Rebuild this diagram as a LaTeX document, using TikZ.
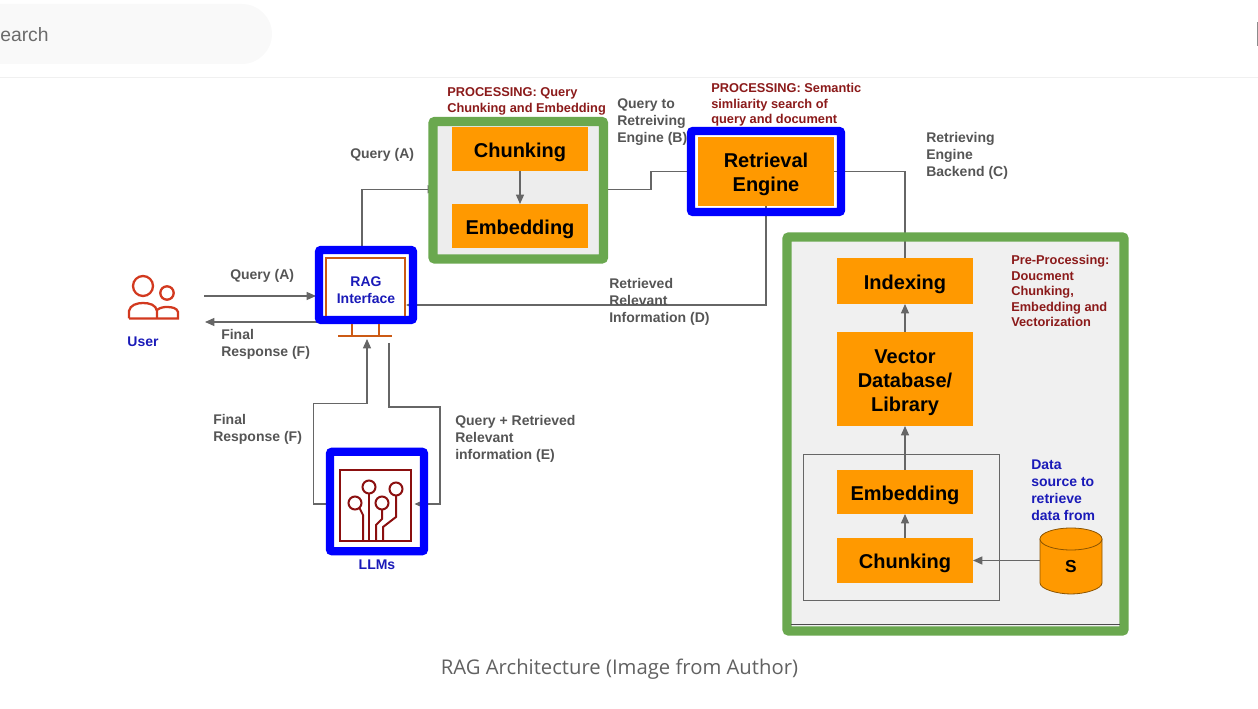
\documentclass[tikz,border=0pt]{standalone}
\usepackage{fontspec}
\setmainfont{Liberation Sans}
\newfontfamily\capfont{Open Sans}
\usetikzlibrary{arrows.meta,calc}
\pgfdeclarelayer{panel}
\pgfdeclarelayer{conn}
\pgfsetlayers{panel,conn,main}
\definecolor{grn}{HTML}{6AA84F}
\definecolor{org}{HTML}{FF9900}
\definecolor{blu}{HTML}{0000FF}
\definecolor{lnk}{HTML}{666666}
\definecolor{lab}{HTML}{555555}
\definecolor{dred}{HTML}{8B1A1A}
\definecolor{nav}{HTML}{1A1AB8}
\definecolor{mon}{HTML}{CC5A14}
\definecolor{chip}{HTML}{8B0F0F}
\definecolor{usr}{HTML}{D2391F}
\newcommand{\lowstrut}{\rule{0pt}{15.4pt}}
\tikzset{
  x=0.75pt,y=-0.75pt,
  box/.style 2 args={draw=none,fill=org,inner sep=0pt,outer sep=0pt,minimum width=#1*0.75pt,minimum height=#2*0.75pt,align=center,font=\bfseries\fontsize{15}{18}\selectfont,execute at begin node={\rule{0pt}{15.8pt}}},
  frame/.style={draw=blu,line width=6.2pt,rounded corners=1.5pt,inner sep=0pt,outer sep=0pt},
  gframe/.style={draw=grn,line width=7pt,rounded corners=1.5pt,inner sep=0pt,outer sep=0pt},
  link/.style={draw=lnk,line width=0.95pt},
  arr/.style={link,-{Triangle[length=7pt,width=6pt]}},
  lbl/.style={anchor=west,inner sep=0pt,align=left,text=lab,font=\bfseries\fontsize{10.5}{12.75}\selectfont},
  redl/.style={lbl,text=dred,font=\bfseries\fontsize{9.6}{11.6}\selectfont},
  blul/.style={lbl,text=nav,font=\bfseries\fontsize{10.5}{12.75}\selectfont},
}
\begin{document}
\begin{tikzpicture}
\useasboundingbox (0,0) rectangle (1258,709);
% page chrome
\fill[fill=black!2.5,rounded corners=22.5pt] (-60,4) rectangle (272,64);
\draw[black!6,line width=0.75pt] (0,77.5) -- (1258,77.5);
\fill[black!45] (1257,22) rectangle (1258,46);
\node[anchor=west,inner sep=0pt,text=black!58,font=\fontsize{14.5}{18}\selectfont] (srch) at (0,35) {earch};
\node[inner sep=0pt,text=black!62,font=\capfont\fontsize{15.2}{18}\selectfont] (capt) at (619.5,669.5) {RAG Architecture (Image from Author)};
% panel fills
\begin{pgfonlayer}{panel}
\fill[black!7] (433,121.5) rectangle (603.5,259);
\fill[black!6] (787,237) rectangle (1124,631);
\end{pgfonlayer}
% frames
\node[gframe,minimum width=127.9pt,minimum height=103.1pt] (qbox) at (518.25,190.25) {};
\node[gframe,minimum width=252.75pt,minimum height=295.5pt] (pbox) at (955.5,434) {};
\node[frame,minimum width=112.5pt,minimum height=60.75pt] (ret) at (766,171.5) {};
\node[frame,minimum width=70.5pt,minimum height=52.5pt] (rag) at (366,285) {};
\node[frame,minimum width=70.5pt,minimum height=74.5pt] (llm) at (377,501.5) {};
\draw[black!70,line width=0.75pt] (791,624.5) -- (1120,624.5);
% orange boxes
\node[box={136}{44}] (c1) at (520,149) {Chunking};
\node[box={136}{44}] (e1) at (520,226) {Embedding};
\node[box={136}{69},execute at begin node={}] (re) at (766,171.5) {\lowstrut Retrieval\\Engine};
\node[box={136}{46}] (ix) at (905,281) {Indexing};
\node[box={136}{94},execute at begin node={}] (vd) at (905,379) {\lowstrut Vector\\Database/\\Library};
\node[box={136}{44}] (e2) at (905,492) {Embedding};
\node[box={136}{45}] (c2) at (905,560.5) {Chunking};
\node[draw=black!60,line width=0.7pt,inner sep=0pt,outer sep=0pt,minimum width=147pt,minimum height=109.5pt] (grp) at (901,527) {};
% data source cylinder
\draw[draw=black!45!org,line width=0.6pt,fill=org] (1040,539) -- (1040,583) .. controls (1040,589) and (1057,594) .. (1071,594) .. controls (1085,594) and (1102,589) .. (1102,583) -- (1102,539) -- cycle;
\draw[draw=black!45!org,line width=0.6pt,fill=org] (1071,539) ellipse[x radius=31,y radius=11];
\node[inner sep=0pt,font=\bfseries\fontsize{13}{15}\selectfont] (src) at (1071,567) {S};
\coordinate (srcw) at (1040,560.5);
% RAG monitor
\draw[mon,line width=1.9pt] (326,316) -- (326,258) -- (405,258) -- (405,316);
\draw[mon,line width=1.9pt] (352,324) -- (352,336) (379,324) -- (379,336);
\draw[mon,line width=1.9pt] (338,336) -- (392,336);
% chip icon
\begin{scope}[draw=chip,line width=1.5pt]
\draw (340,470) rectangle (411,541);
\draw (355,503) circle[radius=6.5] (369,487) circle[radius=6.5] (382,503) circle[radius=6.5] (396,489) circle[radius=6.5];
\draw (359.5,508) -- (363,515) -- (363,541);
\draw (369,493.5) -- (369,541);
\draw (382,509.5) -- (382,519) -- (376,525) -- (376,541);
\draw (396,495.5) -- (396,517) -- (383,527) -- (383,541);
\end{scope}
% user icon
\begin{scope}[draw=usr,line width=1.7pt]
\draw (143,286) circle[radius=10];
\draw (167,293) circle[radius=6.7];
\draw (129,318.5) -- (129,311) .. controls (130,305) and (137,303) .. (143,303) .. controls (150,303) and (156,305) .. (157,311) -- (157,318.5);
\draw (157,310) .. controls (160,307.5) and (164,307) .. (167,307) .. controls (172,307) and (177,308) .. (178,312) -- (178,318.5) -- (129,318.5);
\end{scope}
% named anchor points
\coordinate (uin) at (204,296);
\coordinate (uout) at (205,322);
\coordinate (ragw) at (316,296);
\coordinate (ragb) at (367,339);
\coordinate (ragc) at (389,343);
% connectors
\begin{pgfonlayer}{conn}
\draw[arr] (uin) -- (ragw);
\draw[arr] (rag.west |- uout) -- (uout);
\draw[arr] ([shift={(-4,0)}]rag.north) |- ([shift={(4,-1)}]qbox.west);
\draw[link] ([shift={(0,-1)}]qbox.east) -- (651,189.25) -- (651,171.5) -- (ret.west);
\draw[link] (re.east) -- (905,171.5) -- (ix.north);
\draw[arr] (re.south) -- (766,305) -- ([shift={(-7,20)}]rag.east);
\draw[arr] (c1) -- (e1);
\draw[arr] (vd) -- (ix);
\draw[arr] (e2) -- (vd);
\draw[arr] (c2) -- (e2);
\draw[arr] (srcw) -- (c2.east);
\draw[arr] ([shift={(0,2.5)}]llm.west) -- (313.5,504) -- (313.5,403.5) -- (367,403.5) -- (ragb);
\draw[arr] (ragc) -- (389,407) -- (440,407) -- (440,504) -- (414.5,504);
\end{pgfonlayer}
% labels
\node[lbl] (l1) at (350,155) {Query (A)};
\node[lbl] (l2) at (617,122) {Query to\\Retreiving\\Engine (B)};
\node[lbl] (l3) at (926,156) {Retrieving\\Engine\\Backend (C)};
\node[lbl] (l4) at (230,276) {Query (A)};
\node[lbl] (l5) at (221,344.5) {Final\\Response (F)};
\node[lbl] (l6) at (609,302) {Retrieved\\Relevant\\Information (D)};
\node[lbl] (l7) at (213,429.5) {Final\\Response (F)};
\node[lbl] (l8) at (455,439) {Query + Retrieved\\Relevant\\information (E)};
\node[redl] (r1) at (447,101.5) {PROCESSING: Query\\Chunking and Embedding};
\node[redl] (r2) at (711,105) {PROCESSING: Semantic\\simliarity search of\\query and document};
\node[redl] (r3) at (1011,291) {Pre-Processing:\\Doucment\\Chunking,\\Embedding and\\Vectorization};
\node[blul] (b1) at (1031,490) {Data\\source to\\retrieve\\data from};
\node[blul,anchor=center] (b2) at (143,342) {User};
\node[blul,anchor=center] (b3) at (377,565) {LLMs};
\node[blul,anchor=center,align=center] (b4) at (366,290.5) {RAG\\Interface};
\end{tikzpicture}
\end{document}
